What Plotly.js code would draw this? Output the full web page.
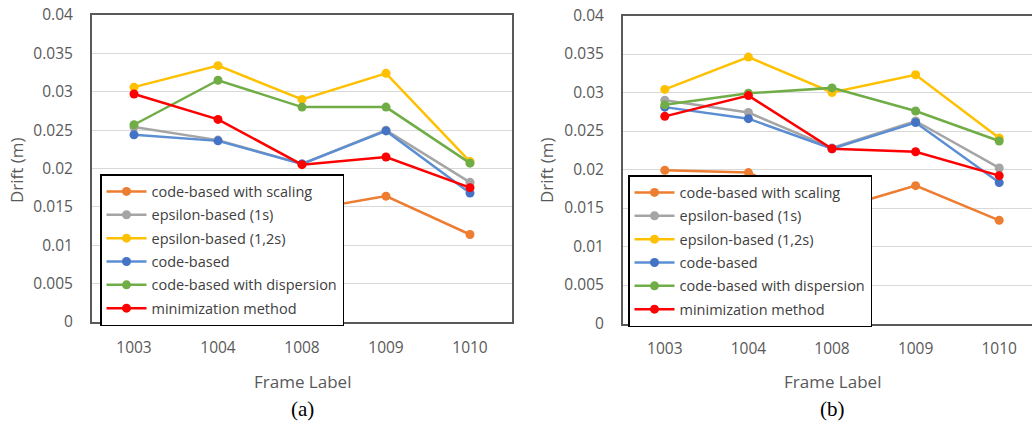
<!DOCTYPE html>
<html>
<head>
<meta charset="utf-8">
<script src="https://cdn.plot.ly/plotly-3.0.1.min.js"></script>
<style>
  html, body { margin: 0; padding: 0; overflow: hidden; background: #fff; }
  #chart { width: 1045px; height: 426px; }
</style>
</head>
<body>
<div id="chart"></div>
<script>
// ---- data ----
const frames = ["1003", "1004", "1008", "1009", "1010"];
const seriesNames = [
  "code-based with scaling",
  "epsilon-based (1s)",
  "epsilon-based (1,2s)",
  "code-based",
  "code-based with dispersion",
  "minimization method"
];
// panel (a)
const aScaling    = [0.0175, 0.0170, 0.0145, 0.0164, 0.0114];
const aEps1s      = [0.0254, 0.0237, 0.0206, 0.0250, 0.0182];
const aEps12s     = [0.0306, 0.0334, 0.0290, 0.0324, 0.0209];
const aCode       = [0.0244, 0.0236, 0.0206, 0.0249, 0.0168];
const aDispersion = [0.0257, 0.0315, 0.0280, 0.0280, 0.0207];
const aMinim      = [0.0297, 0.0264, 0.0205, 0.0215, 0.0175];
// panel (b)
const bScaling    = [0.0199, 0.0196, 0.0147, 0.0179, 0.0134];
const bEps1s      = [0.0290, 0.0274, 0.0228, 0.0263, 0.0202];
const bEps12s     = [0.0304, 0.0346, 0.0300, 0.0323, 0.0241];
const bCode       = [0.0281, 0.0266, 0.0227, 0.0261, 0.0183];
const bDispersion = [0.0284, 0.0299, 0.0306, 0.0276, 0.0237];
const bMinim      = [0.0269, 0.0296, 0.0227, 0.0223, 0.0192];
const yTickVals = [0, 0.005, 0.01, 0.015, 0.02, 0.025, 0.03, 0.035, 0.04];
const yTickText = ["0", "0.005", "0.01", "0.015", "0.02", "0.025", "0.03", "0.035", "0.04"];
const panelLabels = ["(a)", "(b)"];
const xTitle = "Frame Label";
const yTitle = "Drift (m)";

// ---- styles ----
const lineColors   = ["#ED7D31", "#A5A5A5", "#FFC000", "#5B8ED3", "#70AD47", "#FF0000"];
const markerColors = ["#ED7D31", "#A5A5A5", "#FFC000", "#4472C4", "#70AD47", "#FF0000"];
const W = 1045, H = 426;
const px = x => x / W;
const py = y => 1 - y / H;

const aSets = [aScaling, aEps1s, aEps12s, aCode, aDispersion, aMinim];
const bSets = [bScaling, bEps1s, bEps12s, bCode, bDispersion, bMinim];

const traces = [];
function addPanel(sets, xa, ya, legendId, grp) {
  sets.forEach((vals, i) => {
    traces.push({
      type: "scatter", mode: "lines+markers",
      x: frames, y: vals, xaxis: xa, yaxis: ya,
      name: seriesNames[i], legend: legendId,
      legendgroup: grp + i,
      line: { color: lineColors[i], width: 2.5 },
      marker: { color: markerColors[i], size: 9 },
      hoverinfo: "x+y+name"
    });
  });
}
addPanel(aSets, "x", "y", "legend", "a");
addPanel(bSets, "x2", "y2", "legend2", "b");

const tickFont = { family: "Open Sans, sans-serif", size: 15.5, color: "#595959" };
function xAxis(domain, anchor) {
  return {
    domain: domain, anchor: anchor, type: "category", range: [-0.5, 4.5],
    showgrid: false, zeroline: false,
    showline: true, mirror: true, linecolor: "#595959", linewidth: 2,
    ticks: "outside", ticklen: 10, tickcolor: "rgba(0,0,0,0)",
    tickfont: tickFont, fixedrange: true
  };
}
function yAxis(domain, anchor) {
  return {
    domain: domain, anchor: anchor, range: [0, 0.04],
    tickvals: yTickVals, ticktext: yTickText,
    showgrid: true, gridcolor: "#D9D9D9", gridwidth: 1, zeroline: false,
    showline: true, mirror: true, linecolor: "#595959", linewidth: 2,
    ticks: "outside", ticklen: 14, tickcolor: "rgba(0,0,0,0)",
    tickfont: tickFont, fixedrange: true
  };
}
const legendStyle = (x, y) => ({
  x: x, y: y, xref: "paper", yref: "paper", xanchor: "left", yanchor: "top",
  bgcolor: "#FFFFFF", bordercolor: "#000000", borderwidth: 1.5,
  font: { family: "Open Sans, sans-serif", size: 14.5, color: "#404040" },
  tracegroupgap: 1.5, itemwidth: 40, itemclick: false, itemdoubleclick: false
});

const annFont = { family: "Open Sans, sans-serif", size: 17, color: "#595959" };
const capFont = { family: "Liberation Serif, Times New Roman, serif", size: 21, color: "#000000" };
const annotations = [
  { text: yTitle, x: px(16), y: py(170), textangle: -90, font: annFont },
  { text: yTitle, x: px(546), y: py(170), textangle: -90, font: annFont },
  { text: xTitle, x: px(302), y: py(381), font: annFont },
  { text: xTitle, x: px(832), y: py(381), font: annFont },
  { text: panelLabels[0], x: px(302), y: py(409), font: capFont },
  { text: panelLabels[1], x: px(832), y: py(409), font: capFont }
].map(a => Object.assign({ xref: "paper", yref: "paper", showarrow: false, xanchor: "center", yanchor: "middle" }, a));

const layout = {
  width: W, height: H,
  margin: { l: 0, r: 0, t: 0, b: 0 },
  paper_bgcolor: "#FFFFFF", plot_bgcolor: "#FFFFFF",
  showlegend: true,
  xaxis: xAxis([px(92), px(512)], "y"),
  yaxis: yAxis([py(322), py(15)], "x"),
  xaxis2: xAxis([px(623), px(1041)], "y2"),
  yaxis2: yAxis([py(323.5), py(15.5)], "x2"),
  legend: legendStyle(px(100), py(174)),
  legend2: legendStyle(px(628), py(175)),
  annotations: annotations
};

Plotly.newPlot("chart", traces, layout, { displayModeBar: false });
</script>
</body>
</html>
